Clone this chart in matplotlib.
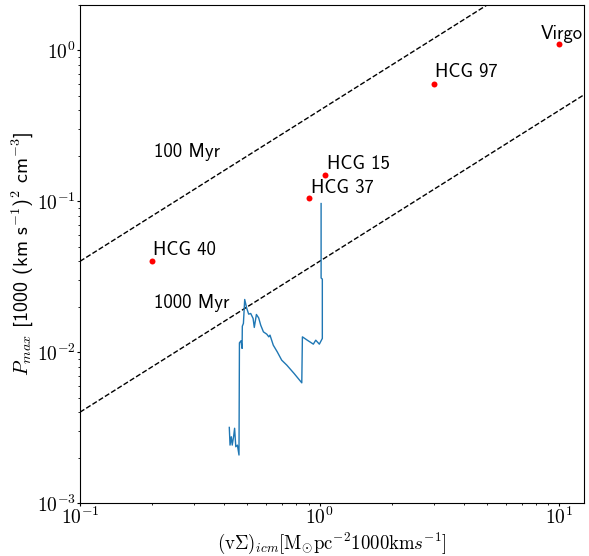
import numpy as np
import matplotlib
matplotlib.use('Agg')
import matplotlib.pyplot as plt
from matplotlib.ticker import FuncFormatter

plt.rcParams['mathtext.fontset'] = 'cm'

# groups: (v*Sigma)_icm and P_max
names = ['HCG 40', 'HCG 37', 'HCG 15', 'HCG 97', 'Virgo']
vsig = [0.2, 0.9, 1.05, 3.0, 10.0]
pmax = [0.04, 0.105, 0.15, 0.6, 1.1]

# label offsets in points (dx, dy)
offs = [(0.7, 4.3), (1.5, 4.0), (2.0, 4.3), (0.7, 5.0), (-13.0, 3.6)]

# stripping timescale lines P = k * vSigma
tlines = ['100 Myr', '1000 Myr']
tcoef = [0.4, 0.04]

# orbit track of the model galaxy
track_x = [0.420, 0.423, 0.428, 0.432, 0.438, 0.442, 0.447, 0.454, 0.461,
           0.463, 0.470, 0.475, 0.476, 0.481, 0.487, 0.497, 0.506, 0.516,
           0.528, 0.534, 0.545, 0.557, 0.568, 0.583, 0.602, 0.614, 0.621,
           0.641, 0.666, 0.695, 0.730, 0.783, 0.843, 0.848, 0.889, 0.942,
           0.964, 0.998, 1.027, 1.027, 1.027, 1.015, 1.015]
track_y = [0.00317, 0.00242, 0.00275, 0.00242, 0.00278, 0.00313, 0.00236,
           0.00242, 0.00208, 0.01153, 0.01189, 0.01059, 0.01486, 0.01549,
           0.02234, 0.01946, 0.01786, 0.01804, 0.01672, 0.01458, 0.01777,
           0.01687, 0.01510, 0.01363, 0.01316, 0.01263, 0.01297, 0.01112,
           0.01004, 0.00885, 0.00820, 0.00722, 0.00626, 0.01263, 0.01200,
           0.01130, 0.01200, 0.01130, 0.01233, 0.01471, 0.03050, 0.03100,
           0.0966]

sf = 'cmss10'

fig = plt.figure(figsize=(5.89, 5.56), dpi=100)
ax = fig.add_axes([0.1358, 0.0953, 0.8557, 0.8957])

xx = np.array([0.1, 13.0])
for lab, k in zip(tlines, tcoef):
    ax.plot(xx, k * xx, 'k--', lw=1)

ax.plot(track_x, track_y, color='#1f77b4', lw=1)
ax.plot(vsig, pmax, 'o', color='red', ms=4.3, mec='none')

for n, x, y, o in zip(names, vsig, pmax, offs):
    ax.annotate(n, (x, y), xytext=o, textcoords='offset points',
                fontsize=13.5, va='baseline', ha='left', family=sf)

ax.text(0.204, 0.196, tlines[0], fontsize=13.5, va='baseline', family=sf)
ax.text(0.204, 0.0196, tlines[1], fontsize=13.5, va='baseline', family=sf)

ax.set_xscale('log')
ax.set_yscale('log')
ax.set_xlim(0.1, 12.7)
ax.set_ylim(1e-3, 2.0)

fmt = FuncFormatter(lambda v, p: r'$10^{%d}$' % round(np.log10(v)))
ax.xaxis.set_major_formatter(fmt)
ax.yaxis.set_major_formatter(fmt)
ax.tick_params(which='both', labelsize=14, pad=1)
ax.tick_params(which='major', length=2)
ax.tick_params(which='minor', length=1.5)

ax.set_xlabel(r'$(\mathrm{v}\Sigma)_{icm}[\mathrm{M_{\odot}pc^{-2}1000km}s^{-1}]$',
              fontsize=13.5, labelpad=2)
ax.set_ylabel(r'$P_{max}$ [1000 (km s$^{-1}$)$^2$ cm$^{-3}$]', fontsize=14.5,
              labelpad=1, family=sf)

plt.savefig('out.png', dpi=100)
